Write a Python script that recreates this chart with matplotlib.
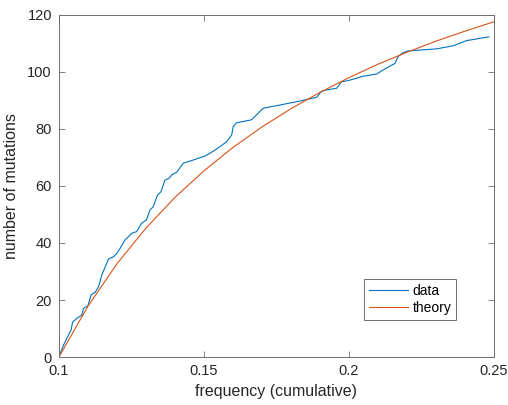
import matplotlib
matplotlib.use("Agg")
import matplotlib.pyplot as plt

# cumulative data curve
freq_data = [0.1000, 0.1016, 0.1033, 0.1042, 0.1047, 0.1062, 0.1079, 0.1085,
             0.1100, 0.1111, 0.1125, 0.1137, 0.1148, 0.1160, 0.1171, 0.1189,
             0.1200, 0.1211, 0.1228, 0.1240, 0.1251, 0.1268, 0.1285, 0.1302,
             0.1314, 0.1325, 0.1340, 0.1352, 0.1366, 0.1380, 0.1389, 0.1406,
             0.1429, 0.1463, 0.1503, 0.1521, 0.1538, 0.1555, 0.1578, 0.1596,
             0.1601, 0.1613, 0.1664, 0.1687, 0.1705, 0.1762, 0.1831, 0.1889,
             0.1906, 0.1923, 0.1958, 0.1975, 0.1998, 0.2027, 0.2044, 0.2096,
             0.2118, 0.2159, 0.2170, 0.2187, 0.2205, 0.2302, 0.2360, 0.2406,
             0.2475, 0.2483]
mut_data = [0.0, 4.2, 7.7, 9.5, 12.2, 13.6, 14.7, 17.1,
            18.0, 21.8, 22.7, 24.7, 28.8, 31.7, 34.4, 35.2,
            36.4, 38.1, 41.1, 42.2, 43.4, 44.0, 46.9, 48.1,
            51.6, 52.7, 56.8, 58.0, 62.1, 62.7, 63.9, 64.8,
            68.0, 69.1, 70.5, 71.5, 72.6, 73.8, 75.5, 77.9,
            80.8, 82.2, 83.2, 85.5, 87.3, 88.4, 89.8, 91.1,
            93.3, 93.7, 94.3, 96.6, 97.0, 97.8, 98.4, 99.3,
            100.7, 103.0, 105.4, 106.8, 107.4, 108.1, 109.2, 111.0,
            112.2, 112.3]

# theory curve, sampled every 0.01
freq_theory = [0.10, 0.11, 0.12, 0.13, 0.14, 0.15, 0.16, 0.17,
               0.18, 0.19, 0.20, 0.21, 0.22, 0.23, 0.24, 0.25]
mut_theory = [0.0, 17.8, 32.7, 45.2, 56.0, 65.3, 73.5, 80.7,
              87.1, 92.8, 98.0, 102.7, 106.9, 110.8, 114.3, 117.6]

xticks = [0.1, 0.15, 0.2, 0.25]
xticklabels = ["0.1", "0.15", "0.2", "0.25"]
yticks = [0, 20, 40, 60, 80, 100, 120]

plt.rcParams["font.family"] = ["Liberation Sans", "DejaVu Sans"]

fig = plt.figure(figsize=(5.08, 4.05), dpi=100)
ax = fig.add_axes([0.116, 0.1185, 0.856, 0.8445])

ax.plot(freq_data, mut_data, color="#0072BD", lw=0.8, label="data")
ax.plot(freq_theory, mut_theory, color="#D95319", lw=0.8, label="theory")

ax.set_xlim(0.1, 0.25)
ax.set_ylim(0, 120)
ax.set_xticks(xticks)
ax.set_xticklabels(xticklabels)
ax.set_yticks(yticks)

axcol = "#262626"
for s in ax.spines.values():
    s.set_color("#6e6e6e")
    s.set_linewidth(0.7)
ax.tick_params(direction="in", length=4, width=0.6, color="#6e6e6e",
               labelcolor=axcol, top=True, right=True, labelsize=10.5, pad=5)

ax.set_xlabel("frequency (cumulative)", fontsize=11.5, color=axcol, labelpad=4)
ax.set_ylabel("number of mutations", fontsize=11.5, color=axcol, labelpad=6)

leg = ax.legend(loc="lower left", bbox_to_anchor=(0.701, 0.108),
                fancybox=False, edgecolor="#6e6e6e", framealpha=1,
                fontsize=10, handlelength=2.8, handletextpad=0.35,
                borderpad=0.35, labelspacing=0.25, borderaxespad=0)
leg.get_frame().set_linewidth(0.7)

fig.savefig("out.png", dpi=100)
